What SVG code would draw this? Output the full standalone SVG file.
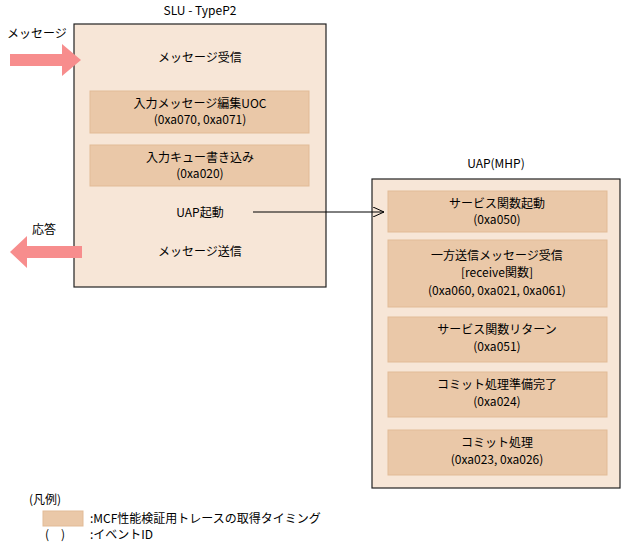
<svg xmlns="http://www.w3.org/2000/svg" width="627" height="547" viewBox="0 0 627 547">
<style>
text{font-family:"Noto Sans CJK JP","Liberation Sans",sans-serif;font-size:12px;fill:#000;text-anchor:middle}
.big{fill:#f7e6d7;stroke:#222;stroke-width:1.2}
.ev{fill:#eac8a8;stroke:#e2bb97;stroke-width:1}
.fat{fill:#f78d8d}
</style>
<defs><marker id="ah" markerWidth="12" markerHeight="10" refX="11" refY="5" orient="auto" markerUnits="userSpaceOnUse"><path d="M0,0 L11,5 L0,10" fill="none" stroke="#000"/></marker></defs>
<text x="200" y="15">SLU - TypeP2</text>
<text x="496" y="168">UAP(MHP)</text>
<g id="slu"><rect class="big" x="74" y="24" width="252" height="263"/>
<text x="200" y="62">メッセージ受信</text>
<text x="200" y="217">UAP起動</text>
<text x="200" y="256">メッセージ送信</text></g>
<g id="e1"><rect class="ev" x="90" y="91" width="219" height="42"/><text x="200" y="108">入力メッセージ編集UOC</text><text x="200" y="124">(0xa070, 0xa071)</text></g>
<g id="e2"><rect class="ev" x="90" y="145" width="219" height="41"/><text x="200" y="162">入力キュー書き込み</text><text x="200" y="178">(0xa020)</text></g>
<g id="uap"><rect class="big" x="372" y="179" width="248" height="309"/></g>
<g id="r1"><rect class="ev" x="388" y="191" width="219" height="41"/><text x="497" y="208">サービス関数起動</text><text x="497" y="224">(0xa050)</text></g>
<g id="r2"><rect class="ev" x="388" y="240" width="219" height="67"/><text x="497" y="260">一方送信メッセージ受信</text><text x="497" y="277">[receive関数]</text><text x="497" y="295">(0xa060, 0xa021, 0xa061)</text></g>
<g id="r3"><rect class="ev" x="388" y="317" width="219" height="45"/><text x="497" y="334">サービス関数リターン</text><text x="497" y="351">(0xa051)</text></g>
<g id="r4"><rect class="ev" x="388" y="372" width="219" height="45"/><text x="497" y="389">コミット処理準備完了</text><text x="497" y="406">(0xa024)</text></g>
<g id="r5"><rect class="ev" x="388" y="430" width="219" height="45"/><text x="497" y="447">コミット処理</text><text x="497" y="464">(0xa023, 0xa026)</text></g>
<g id="connectors">
<line x1="253" y1="212" x2="384" y2="212" stroke="#000" marker-end="url(#ah)"/>
<polygon class="fat" points="10,54 62,54 62,44 81,60 62,76 62,66 10,66"/>
<polygon class="fat" points="82,246 27,246 27,236 10,252 27,268 27,258 82,258"/>
</g>
<text x="37" y="38">メッセージ</text>
<text x="44" y="234">応答</text>
<g id="legend">
<text x="45" y="504">(凡例)</text>
<rect class="ev" x="43" y="511" width="40" height="15"/>
<text x="90" y="523" style="text-anchor:start">:MCF性能検証用トレースの取得タイミング</text>
<text x="55" y="539">(　)</text>
<text x="90" y="539" style="text-anchor:start">:イベントID</text>
</g>
</svg>
